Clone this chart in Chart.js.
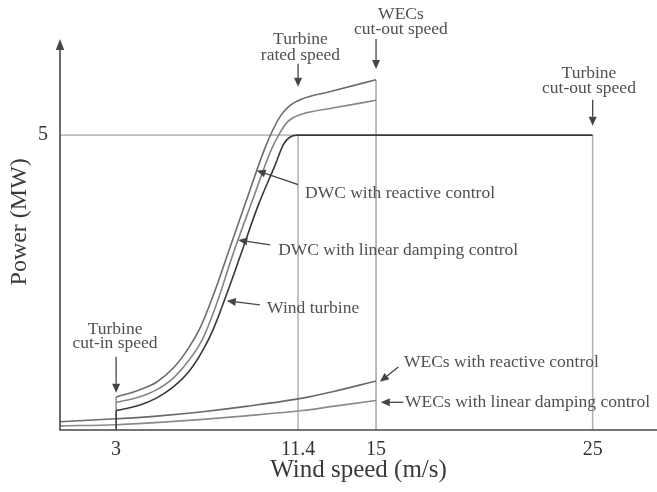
<!DOCTYPE html>
<html>
<head>
<meta charset="utf-8">
<script src="https://cdn.jsdelivr.net/npm/chart.js@4"></script>
<style>
  html, body { margin: 0; padding: 0; background: #ffffff; }
  #wrap { width: 657px; height: 492px; }
</style>
</head>
<body>
<div id="wrap"><canvas id="c" width="657" height="492"></canvas></div>
<script>
// Tick values on the two axes
const xTicks = [3, 11.4, 15, 25];
const yTicks = [5];

// Characteristic speeds (m/s) and rated power (MW)
const cutInSpeed = 3;
const ratedSpeed = 11.4;
const wecCutOutSpeed = 15;
const turbineCutOutSpeed = 25;
const ratedPower = 5;

// Power curves, [wind speed (m/s), power (MW)]
const windTurbine = [
  [3, 0.33], [4.07, 0.42], [4.86, 0.54], [5.64, 0.73], [6.38, 1.0], [7.0, 1.35],
  [7.5, 1.72], [8.05, 2.25], [8.78, 3.0], [9.55, 3.8], [10.35, 4.5], [10.72, 4.84],
  [11.0, 4.96], [11.35, 5.0], [25, 5.0]
];
const dwcReactive = [
  [3, 0.56], [4.07, 0.68], [4.86, 0.81], [5.64, 1.05], [6.38, 1.41], [6.9, 1.75],
  [7.5, 2.3], [8.17, 3.0], [9.0, 3.88], [9.84, 4.75], [10.25, 5.1], [10.6, 5.33],
  [10.95, 5.48], [11.55, 5.61], [12.9, 5.74], [15, 5.94]
];
const dwcLinear = [
  [3, 0.47], [4.07, 0.56], [4.86, 0.68], [5.64, 0.88], [6.38, 1.19], [7.0, 1.55],
  [7.6, 2.1], [8.46, 3.05], [9.3, 3.9], [10.16, 4.75], [10.55, 5.03], [10.9, 5.22],
  [11.25, 5.31], [11.6, 5.36], [13, 5.46], [15, 5.59]
];
const wecReactive = [
  [0.41, 0.14], [3, 0.19], [5, 0.24], [7, 0.31], [9, 0.4], [11.6, 0.54], [13, 0.65], [15, 0.83]
];
const wecLinear = [
  [0.41, 0.07], [3, 0.09], [5, 0.13], [7, 0.18], [9, 0.24], [11.6, 0.33], [13, 0.4], [15, 0.5]
];

// Axis extents
const X_MIN = 0.41, X_MAX = 27.97;
const Y_MIN = 0, Y_MAX = 6.63;

const toXY = arr => arr.map(([x, y]) => ({ x, y }));
const last = arr => arr[arr.length - 1];

const SERIF = '"Liberation Serif", "Times New Roman", serif';

// Text callouts with arrows, positioned in data units
const callouts = [
  { lines: ['Turbine', 'rated speed'], x: 11.51, ys: [6.62, 6.36], align: 'center',
    arrow: [ratedSpeed, 6.21, ratedSpeed, 5.82] },
  { lines: ['WECs', 'cut-out speed'], x: 16.15, ys: [7.04, 6.79], align: 'center',
    arrow: [wecCutOutSpeed, 6.63, wecCutOutSpeed, 6.12] },
  { lines: ['Turbine', 'cut-out speed'], x: 24.83, ys: [6.04, 5.79], align: 'center',
    arrow: [turbineCutOutSpeed, 5.60, turbineCutOutSpeed, 5.16] },
  { lines: ['Turbine', 'cut-in speed'], x: 2.95, ys: [1.71, 1.46], align: 'center',
    arrow: [cutInSpeed, 1.24, cutInSpeed, 0.63] },
  { lines: ['DWC with reactive control'], x: 11.72, ys: [4.02], align: 'left',
    arrow: [11.40, 4.16, 9.49, 4.40] },
  { lines: ['DWC with linear damping control'], x: 10.48, ys: [3.05], align: 'left',
    arrow: [10.11, 3.14, 8.64, 3.22] },
  { lines: ['Wind turbine'], x: 9.97, ys: [2.07], align: 'left',
    arrow: [9.64, 2.12, 8.11, 2.19] },
  { lines: ['WECs with reactive control'], x: 16.29, ys: [1.15], align: 'left',
    arrow: [16.03, 1.07, 15.18, 0.82] },
  { lines: ['WECs with linear damping control'], x: 16.34, ys: [0.475], align: 'left',
    arrow: [16.26, 0.47, 15.22, 0.47] }
];

function drawArrow(ctx, x1, y1, x2, y2, headLen, headHalf) {
  const ang = Math.atan2(y2 - y1, x2 - x1);
  const bx = x2 - headLen * Math.cos(ang);
  const by = y2 - headLen * Math.sin(ang);
  ctx.beginPath();
  ctx.moveTo(x1, y1);
  ctx.lineTo(bx, by);
  ctx.stroke();
  ctx.beginPath();
  ctx.moveTo(x2, y2);
  ctx.lineTo(bx + headHalf * Math.sin(ang), by - headHalf * Math.cos(ang));
  ctx.lineTo(bx - headHalf * Math.sin(ang), by + headHalf * Math.cos(ang));
  ctx.closePath();
  ctx.fill();
}

const decorations = {
  id: 'decorations',
  afterDraw(chart) {
    const { ctx, chartArea: ca } = chart;
    const xs = chart.scales.x, ys = chart.scales.y;
    ctx.save();

    // Axes: y with arrow head, x running to the right edge
    ctx.strokeStyle = '#474747';
    ctx.fillStyle = '#474747';
    ctx.lineWidth = 1.6;
    const x0 = ca.left, y0 = ys.getPixelForValue(0);
    drawArrow(ctx, x0, y0, x0, ca.top, 11, 4.2);
    ctx.beginPath();
    ctx.moveTo(x0 - 0.8, y0);
    ctx.lineTo(ca.right, y0);
    ctx.stroke();

    // Callouts
    ctx.lineWidth = 1.3;
    ctx.strokeStyle = '#444444';
    ctx.fillStyle = '#444444';
    for (const c of callouts) {
      const [ax1, ay1, ax2, ay2] = c.arrow;
      drawArrow(ctx,
        xs.getPixelForValue(ax1), ys.getPixelForValue(ay1),
        xs.getPixelForValue(ax2), ys.getPixelForValue(ay2), 9, 4);
    }
    ctx.fillStyle = '#505050';
    ctx.font = '17.5px ' + SERIF;
    ctx.textBaseline = 'middle';
    for (const c of callouts) {
      ctx.textAlign = c.align;
      c.lines.forEach((t, i) => {
        ctx.fillText(t, xs.getPixelForValue(c.x), ys.getPixelForValue(c.ys[i]));
      });
    }

    // Vertical axis title
    ctx.fillStyle = '#3a3a3a';
    ctx.font = '24px ' + SERIF;
    ctx.textAlign = 'center';
    ctx.translate(ca.left - 40, ys.getPixelForValue(3.53));
    ctx.rotate(-Math.PI / 2);
    ctx.fillText('Power (MW)', 0, 0);
    ctx.restore();
  }
};

const curveStyle = (color) => ({
  borderColor: color, borderWidth: 1.6, pointRadius: 0, showLine: true,
  cubicInterpolationMode: 'monotone', fill: false
});
const refStyle = (color, w) => ({
  borderColor: color, borderWidth: w, pointRadius: 0, showLine: true, tension: 0, fill: false
});

const datasets = [
  // main curves (first in list is drawn on top)
  { label: 'Wind turbine', data: toXY(windTurbine), ...curveStyle('#383838') },
  { label: 'cut-in', data: toXY([[cutInSpeed, 0], [cutInSpeed, windTurbine[0][1]]]), ...refStyle('#383838', 1.6) },
  { label: 'DWC with linear damping control', data: toXY(dwcLinear), ...curveStyle('#858585') },
  { label: 'DWC with reactive control', data: toXY(dwcReactive), ...curveStyle('#6c6c6c') },
  { label: 'WECs with reactive control', data: toXY(wecReactive), ...curveStyle('#6a6a6a') },
  { label: 'WECs with linear damping control', data: toXY(wecLinear), ...curveStyle('#8a8a8a') },
  { label: 'cut-in DWC', data: toXY([[cutInSpeed, windTurbine[0][1]], [cutInSpeed, dwcReactive[0][1]]]), ...refStyle('#8a8a8a', 1.5) },
  // reference lines
  { label: 'rated power', data: toXY([[X_MIN, ratedPower], [ratedSpeed, ratedPower]]), ...refStyle('#bdbdbd', 1.6) },
  { label: 'rated speed', data: toXY([[ratedSpeed, 0], [ratedSpeed, ratedPower]]), ...refStyle('#b5b5b5', 1.6) },
  { label: 'WEC cut-out', data: toXY([[wecCutOutSpeed, 0], [wecCutOutSpeed, last(dwcReactive)[1]]]), ...refStyle('#ababab', 1.6) },
  { label: 'turbine cut-out', data: toXY([[turbineCutOutSpeed, 0], [turbineCutOutSpeed, ratedPower]]), ...refStyle('#b5b5b5', 1.6) }
];

new Chart(document.getElementById('c'), {
  type: 'scatter',
  data: { datasets },
  options: {
    responsive: false,
    animation: false,
    devicePixelRatio: 1,
    layout: { padding: { top: 39, right: 0, bottom: 0, left: 0 } },
    plugins: { legend: { display: false }, tooltip: { enabled: false } },
    scales: {
      x: {
        type: 'linear', min: X_MIN, max: X_MAX,
        grid: { display: false, drawTicks: false },
        border: { display: false },
        afterBuildTicks: s => { s.ticks = xTicks.map(v => ({ value: v })); },
        afterFit: s => { s.height = 62; },
        ticks: {
          padding: 8, color: '#333333', maxRotation: 0, autoSkip: false,
          font: { family: SERIF, size: 20 },
          callback: v => String(v)
        },
        title: {
          display: true, text: 'Wind speed (m/s)', color: '#3a3a3a',
          font: { family: SERIF, size: 25 }, padding: { top: 0, bottom: 7 }
        }
      },
      y: {
        type: 'linear', min: Y_MIN, max: Y_MAX,
        grid: { display: false, drawTicks: false },
        border: { display: false },
        afterBuildTicks: s => { s.ticks = yTicks.map(v => ({ value: v })); },
        afterFit: s => { s.width = 60; },
        ticks: {
          padding: 12, color: '#333333', autoSkip: false,
          font: { family: SERIF, size: 20 },
          callback: v => String(v)
        }
      }
    }
  },
  plugins: [decorations]
});
</script>
</body>
</html>
